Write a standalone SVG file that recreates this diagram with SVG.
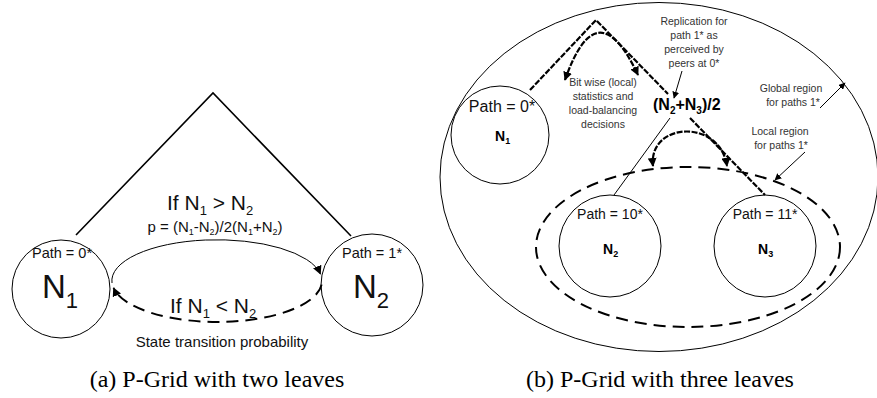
<svg xmlns="http://www.w3.org/2000/svg" width="877" height="398" viewBox="0 0 877 398">
<defs>
<style>
.c{fill:none;stroke:#000;stroke-width:1}
.t{font-family:"Liberation Sans",Arial,sans-serif;fill:#111}
.s{font-family:"Liberation Sans",Arial,sans-serif;fill:#333;font-size:10.5px;text-anchor:middle}
.b{font-family:"Liberation Sans",Arial,sans-serif;font-weight:bold;fill:#000}
.cap{font-family:"Liberation Serif","Times New Roman",serif;font-size:24px;fill:#000;text-anchor:middle}
.tree{fill:none;stroke:#000;stroke-width:1.6}
.dd{fill:none;stroke:#000;stroke-width:2.2;stroke-dasharray:6 1.5}
.dash{fill:none;stroke:#000;stroke-width:2;stroke-dasharray:12 7}
.thin{fill:none;stroke:#000;stroke-width:1}
</style>
<marker id="ah" viewBox="0 0 10 10" refX="9" refY="5" markerWidth="9" markerHeight="9" markerUnits="userSpaceOnUse" orient="auto-start-reverse">
<path d="M0,0 L10,5 L0,10 z" fill="#000"/>
</marker>
<marker id="ahs" viewBox="0 0 10 10" refX="9" refY="5" markerWidth="7" markerHeight="7" markerUnits="userSpaceOnUse" orient="auto-start-reverse">
<path d="M0,0 L10,5 L0,10 z" fill="#000"/>
</marker>
</defs>

<!-- Panel (a) -->
<g id="a-N1">
<circle class="c" cx="61" cy="289" r="49"/>
<text class="t" x="62" y="258" font-size="14.5" text-anchor="middle">Path = 0*</text>
<text class="t" x="42" y="298" font-size="33">N<tspan font-size="22" dy="10">1</tspan></text>
</g>
<g id="a-N2">
<circle class="c" cx="372" cy="285" r="51"/>
<text class="t" x="372" y="258" font-size="14.5" text-anchor="middle">Path = 1*</text>
<text class="t" x="353" y="298" font-size="33">N<tspan font-size="22" dy="10">2</tspan></text>
</g>
<g id="a-connectors">
<polyline class="tree" points="76,235 213,93 351,236"/>
<path class="thin" d="M112,283 A105,41 0 0 1 320.4,274" marker-end="url(#ah)"/>
<path class="dash" d="M321.6,284.6 A105,41 0 0 1 113.6,288" marker-end="url(#ah)"/>
</g>
<g id="a-labels">
<text class="t" x="167" y="210" font-size="21">If N<tspan font-size="13" dy="5">1</tspan><tspan dy="-5"> &gt; N</tspan><tspan font-size="13" dy="5">2</tspan></text>
<text class="t" x="215" y="232" font-size="15" text-anchor="middle">p = (N<tspan font-size="9" dy="3">1</tspan><tspan dy="-3">-N</tspan><tspan font-size="9" dy="3">2</tspan><tspan dy="-3">)/2(N</tspan><tspan font-size="9" dy="3">1</tspan><tspan dy="-3">+N</tspan><tspan font-size="9" dy="3">2</tspan><tspan dy="-3">)</tspan></text>
<text class="t" x="170" y="313" font-size="21">If N<tspan font-size="13" dy="5">1</tspan><tspan dy="-5"> &lt; N</tspan><tspan font-size="13" dy="5">2</tspan></text>
<text class="t" x="222" y="347" font-size="15" text-anchor="middle">State transition probability</text>
<text class="cap" x="217" y="387">(a)  P-Grid with two leaves</text>
</g>

<!-- Panel (b) -->
<g id="b-global">
<ellipse class="c" cx="659" cy="177" rx="219" ry="174.5"/>
</g>
<g id="b-local">
<ellipse class="dash" cx="688" cy="247" rx="152" ry="80"/>
</g>
<g id="b-N1">
<circle class="c" cx="500" cy="135" r="49"/>
<text class="t" x="502" y="112" font-size="16" text-anchor="middle">Path = 0*</text>
<text class="b" x="495" y="141" font-size="14">N<tspan font-size="9" dy="3">1</tspan></text>
</g>
<g id="b-N2">
<circle class="c" cx="610" cy="246" r="51"/>
<text class="t" x="610" y="219" font-size="14" text-anchor="middle">Path = 10*</text>
<text class="b" x="603" y="254" font-size="14">N<tspan font-size="9" dy="3">2</tspan></text>
</g>
<g id="b-N3">
<circle class="c" cx="765" cy="246" r="51"/>
<text class="t" x="765" y="219" font-size="14" text-anchor="middle">Path = 11*</text>
<text class="b" x="758" y="254" font-size="14">N<tspan font-size="9" dy="3">3</tspan></text>
</g>
<g id="b-parent">
<text class="b" x="653" y="110" font-size="16">(N<tspan font-size="10" dy="4">2</tspan><tspan dy="-4">+N</tspan><tspan font-size="10" dy="4">3</tspan><tspan dy="-4">)/2</tspan></text>
</g>
<g id="b-connectors">
<polyline class="dd" points="530,90 596,20 668,94"/>
<path class="dd" d="M565,80 Q597,-12 638,75" marker-start="url(#ah)" marker-end="url(#ah)"/>
<line class="thin" x1="670" y1="118" x2="614" y2="195"/>
<line class="dd" x1="690" y1="118" x2="765" y2="195"/>
<path class="dd" d="M653,166 C648,122 720,118 727,166" marker-start="url(#ah)" marker-end="url(#ah)"/>
<line class="thin" x1="682" y1="71" x2="674" y2="98" marker-end="url(#ahs)"/>
<line class="thin" x1="820" y1="108" x2="845" y2="83" marker-end="url(#ahs)"/>
<line class="thin" x1="805" y1="152" x2="775" y2="180" marker-end="url(#ahs)"/>
</g>
<g id="b-labels">
<text class="s" x="694" y="25">Replication  for</text>
<text class="s" x="694" y="39">path 1* as</text>
<text class="s" x="694" y="53">perceived by</text>
<text class="s" x="694" y="67">peers at 0*</text>
<text class="s" x="603" y="86">Bit wise (local)</text>
<text class="s" x="603" y="100">statistics and</text>
<text class="s" x="603" y="114">load-balancing</text>
<text class="s" x="603" y="128">decisions</text>
<text class="s" x="791" y="92">Global region</text>
<text class="s" x="793" y="106">for paths 1*</text>
<text class="s" x="780" y="135">Local region</text>
<text class="s" x="781" y="149">for paths 1*</text>
<text class="cap" x="660" y="387">(b)  P-Grid with three leaves</text>
</g>
</svg>
